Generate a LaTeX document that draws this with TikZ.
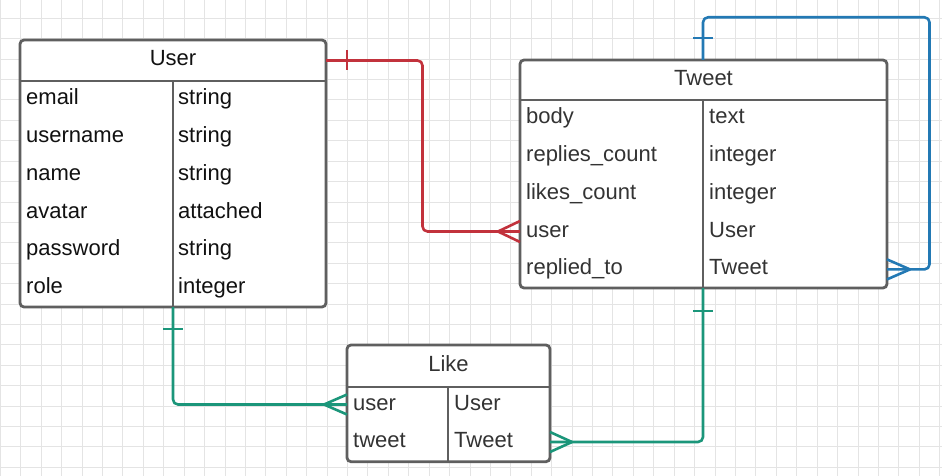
\documentclass[tikz,border=0pt]{standalone}
\usepackage{fontspec}
\setmainfont{Liberation Sans}
\definecolor{bordc}{HTML}{5F5F5F}
\definecolor{gridc}{HTML}{E4E4E4}
\definecolor{cRed}{HTML}{C2323C}
\definecolor{cBlue}{HTML}{2379B4}
\definecolor{cGreen}{HTML}{1B967A}
\definecolor{txtA}{HTML}{111111}
\definecolor{txtB}{HTML}{333333}
\begin{document}
\begin{tikzpicture}[x=1pt,y=-1pt,
  entity/.style={draw=bordc, line width=2.8pt, rounded corners=4pt, fill=white, inner sep=0pt, outer sep=0pt, anchor=north west},
  sepline/.style={draw=bordc, line width=2.8pt},
  head/.style={font=\fontsize{22}{26}\selectfont, text height=16pt, text depth=5pt, inner sep=0pt},
  fld/.style={head, anchor=base west},
  conn/.style={line width=2.6pt, rounded corners=5pt, line join=round},
  relred/.style={conn, draw=cRed},
  relblue/.style={conn, draw=cBlue},
  relgreen/.style={conn, draw=cGreen},
  gridline/.style={draw=gridc, line width=0.8pt}]
\useasboundingbox (0,0) rectangle (942,476);
\fill[white] (0,0) rectangle (942,476);
% grid
\foreach \i in {0,...,46} \draw[gridline] ({0.28+20.42*\i},0) -- ++(0,476);
\foreach \j in {1,...,23} \draw[gridline] (0,{-2.1+20.4*\j}) -- ++(942,0);

% ---- User entity
\node[entity, minimum width=306pt, minimum height=267pt] (user) at (20,40) {};
\coordinate (userdiv) at (173,81);
\draw[sepline] (user.west |- userdiv) -- (user.east |- userdiv);
\draw[sepline] (userdiv) -- (userdiv |- user.south);
\node[head, text=txtA] (userhead) at (173,60.5) {User};
\node[fld, text=txtA] (u-email) at (26,105) {email};
\node[fld, text=txtA] (u-username) at (26,142.7) {username};
\node[fld, text=txtA] (u-name) at (26,180.4) {name};
\node[fld, text=txtA] (u-avatar) at (26,218.1) {avatar};
\node[fld, text=txtA] (u-password) at (26,255.8) {password};
\node[fld, text=txtA] (u-role) at (26,293.5) {role};
\node[fld, text=txtA] (ut-email) at (178,105) {string};
\node[fld, text=txtA] (ut-username) at (178,142.7) {string};
\node[fld, text=txtA] (ut-name) at (178,180.4) {string};
\node[fld, text=txtA] (ut-avatar) at (178,218.1) {attached};
\node[fld, text=txtA] (ut-password) at (178,255.8) {string};
\node[fld, text=txtA] (ut-role) at (178,293.5) {integer};

% ---- Tweet entity
\node[entity, minimum width=367pt, minimum height=228pt] (tweet) at (520,60) {};
\coordinate (twdiv) at (703,100);
\draw[sepline] (tweet.west |- twdiv) -- (tweet.east |- twdiv);
\draw[sepline] (twdiv) -- (twdiv |- tweet.south);
\node[head, text=txtB] (twhead) at (703.5,80) {Tweet};
\node[fld, text=txtB] (twbody) at (526,123.3) {body};
\node[fld, text=txtB] (twreplies) at (526,161.2) {replies\_count};
\node[fld, text=txtB] (twlikes) at (526,199.1) {likes\_count};
\node[fld, text=txtB] (twuser) at (526,237) {user};
\node[fld, text=txtB] (twrep) at (526,274.9) {replied\_to};
\node[fld, text=txtB] (twt-body) at (709,123.3) {text};
\node[fld, text=txtB] (twt-replies) at (709,161.2) {integer};
\node[fld, text=txtB] (twt-likes) at (709,199.1) {integer};
\node[fld, text=txtB] (twt-user) at (709,237) {User};
\node[fld, text=txtB] (twt-rep) at (709,274.9) {Tweet};

% ---- Like entity
\node[entity, minimum width=203pt, minimum height=116.7pt] (like) at (347,345) {};
\coordinate (likediv) at (448,387);
\draw[sepline] (like.west |- likediv) -- (like.east |- likediv);
\draw[sepline] (likediv) -- (likediv |- like.south);
\node[head, text=txtB] (likehead) at (448.5,366) {Like};
\node[fld, text=txtB] (likeuser) at (353,410) {user};
\node[fld, text=txtB] (liketweet) at (353,447.5) {tweet};
\node[fld, text=txtB] (liket-user) at (454,410) {User};
\node[fld, text=txtB] (liket-tweet) at (454,447.5) {Tweet};

% ---- connectors
\coordinate (redbend) at (422.5,0);
\coordinate (bluetop) at (929.5,17.3);

% red: User (one) -> Tweet.user (many)
\draw[relred] (userhead -| user.east) -- (redbend |- userhead) -- (redbend |- twuser) -- (twuser -| tweet.west);
\draw[relred] (userhead -| user.east) ++(21,-10) -- ++(0,20);
\draw[relred, rounded corners=0pt] (twuser -| tweet.west) ++(0,-10.5) -- ++(-22,10.5) -- ++(22,10.5);

% blue: Tweet (one) -> Tweet.replied_to (many)
\draw[relblue] (twdiv |- tweet.north) -- (twdiv |- bluetop) -- (bluetop) -- (bluetop |- twrep) -- (twrep -| tweet.east);
\draw[relblue] (twdiv |- tweet.north) ++(-10,-22) -- ++(20,0);
\draw[relblue, rounded corners=0pt] (twrep -| tweet.east) ++(0,-10) -- ++(23,10) -- ++(-23,10);

% green: User (one) -> Like.user (many)
\draw[relgreen] (userdiv |- user.south) -- (userdiv |- likeuser) -- (likeuser -| like.west);
\draw[relgreen] (userdiv |- user.south) ++(-10,22) -- ++(20,0);
\draw[relgreen, rounded corners=0pt] (likeuser -| like.west) ++(0,-10) -- ++(-23,10) -- ++(23,10);

% green: Tweet (one) -> Like.tweet (many)
\draw[relgreen] (twdiv |- tweet.south) -- (twdiv |- liketweet) -- (liketweet -| like.east);
\draw[relgreen] (twdiv |- tweet.south) ++(-10,23) -- ++(20,0);
\draw[relgreen, rounded corners=0pt] (liketweet -| like.east) ++(0,-10) -- ++(22,10) -- ++(-22,10);
\end{tikzpicture}
\end{document}
